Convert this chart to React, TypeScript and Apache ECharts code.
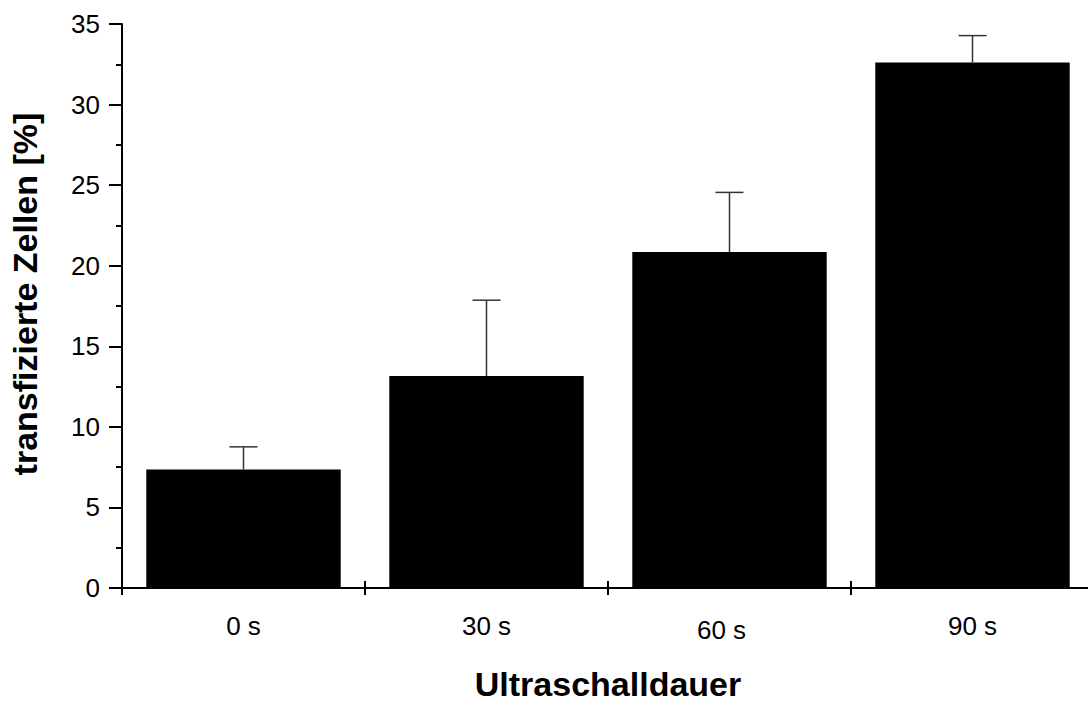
import React, { useEffect, useRef } from "react";
import * as echarts from "echarts";

const categories = ["0 s", "30 s", "60 s", "90 s"];
const values = [7.36, 13.16, 20.85, 32.61];
const errors = [1.40, 4.70, 3.70, 1.67];
const yTicks = { min: 0, max: 35, interval: 5 };

export default function App() {
  const ref = useRef<HTMLDivElement>(null);
  useEffect(() => {
    if (!ref.current) return;
    const chart = echarts.init(ref.current, null, { renderer: "svg" });
    const font = "'Liberation Sans', Arial, sans-serif";
    const errData = values.map((v, i) => [i, v, errors[i]]);
    chart.setOption({
      animation: false,
      backgroundColor: "#ffffff",
      grid: {
        left: 122,
        top: 24,
        width: 972,
        bottom: 123,
        containLabel: false,
        outerBoundsMode: "none",
      },
      xAxis: [
        {
          type: "category",
          data: categories,
          position: "bottom",
          boundaryGap: true,
          axisLine: { show: true, lineStyle: { color: "#000", width: 2 } },
          axisTick: { show: true, inside: false, length: 7, lineStyle: { color: "#000", width: 2 } },
          axisLabel: {
            color: "#000",
            fontFamily: font,
            fontSize: 26,
            margin: 25,
            formatter: (v: string, i: number) => (i === 2 ? "{off|" + v + "}" : v),
            rich: { off: { fontFamily: font, fontSize: 26, color: "#000", padding: [4, 16, 0, 0] } },
          },
          name: "Ultraschalldauer",
          nameLocation: "middle",
          nameGap: 79,
          nameTextStyle: { fontFamily: font, fontSize: 34, fontWeight: "bold", color: "#000" },
        },
        {
          type: "category",
          data: categories,
          position: "bottom",
          offset: 0,
          boundaryGap: true,
          axisLine: { show: false },
          axisTick: { show: true, inside: true, length: 7, lineStyle: { color: "#000", width: 2 } },
          axisLabel: { show: false },
        },
      ],
      yAxis: {
        type: "value",
        min: yTicks.min,
        max: yTicks.max,
        interval: yTicks.interval,
        splitLine: { show: false },
        axisLine: { show: true, lineStyle: { color: "#000", width: 2 } },
        axisTick: { show: true, length: 13, lineStyle: { color: "#000", width: 2 } },
        minorTick: { show: true, splitNumber: 2, length: 6, lineStyle: { color: "#000", width: 2 } },
        axisLabel: { color: "#000", fontFamily: font, fontSize: 26, margin: 22 },
        name: "transfizierte Zellen [%]",
        nameLocation: "middle",
        nameGap: 80,
        nameTextStyle: {
          fontFamily: font,
          fontSize: 34,
          fontWeight: "bold",
          color: "#000",
          padding: [0, 0, 0, 24],
        },
      },
      series: [
        {
          type: "bar",
          data: values,
          barWidth: "80%",
          itemStyle: { color: "#000" },
          z: 2,
        },
        {
          type: "custom",
          data: errData,
          z: 3,
          renderItem: (params: any, api: any) => {
            const i = api.value(0);
            const v = api.value(1);
            const e = api.value(2);
            const p0 = api.coord([i, v]);
            const p1 = api.coord([i, v + e]);
            const half = 14;
            const style = { stroke: "#333", lineWidth: 1.5 };
            return {
              type: "group",
              children: [
                { type: "line", shape: { x1: p0[0], y1: p0[1], x2: p1[0], y2: p1[1] }, style },
                { type: "line", shape: { x1: p1[0] - half, y1: p1[1], x2: p1[0] + half, y2: p1[1] }, style },
              ],
            };
          },
        },
      ],
    });
    return () => chart.dispose();
  }, []);
  return (
    <div
      ref={ref}
      style={{ position: "fixed", left: 0, top: 0, width: 1088, height: 711, background: "#fff" }}
    />
  );
}
